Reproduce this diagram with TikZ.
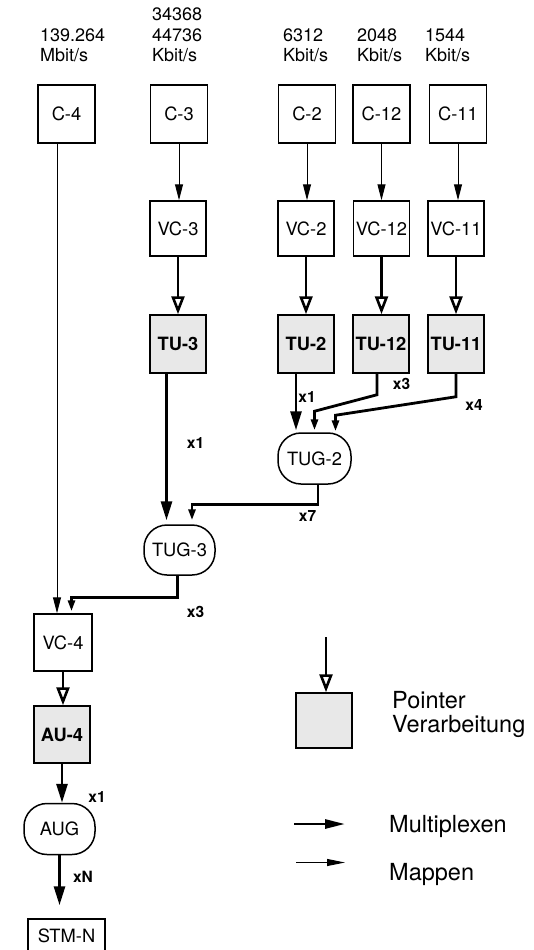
\documentclass[tikz,border=0pt]{standalone}
\usepackage{fontspec}
\setmainfont{TeX Gyre Heros}
\usetikzlibrary{arrows.meta,positioning}

\tikzset{
  unit/.style={draw, line width=1.5pt, minimum width=57pt, minimum height=57pt,
    inner sep=0pt, font=\fontsize{18.3}{20}\selectfont},
  ptrunit/.style={unit, fill=black!9, font=\fontsize{18.3}{20}\selectfont\bfseries},
  group/.style={draw, line width=1.5pt, rounded corners=23pt, minimum width=71pt,
    minimum height=51pt, inner sep=0pt, font=\fontsize{18.3}{20}\selectfont},
  mapar/.style={line width=1pt, -{Triangle[length=16pt,width=8pt]}},
  muxar/.style={line width=2.8pt, -{Triangle[length=19pt,width=11pt]}},
  muxsm/.style={line width=2.8pt, -{Triangle[length=11pt,width=7pt]}},
  ptrar/.style={line width=2.6pt, -{Triangle[open,length=18pt,width=13pt]}},
  rate/.style={anchor=base west, align=left, inner sep=0pt,
    font=\fontsize{18}{20.5}\selectfont},
  mult/.style={inner sep=0pt, font=\fontsize{15.5}{15.5}\selectfont\bfseries},
  legend/.style={anchor=base west, align=left, inner sep=0pt,
    font=\fontsize{23.5}{24}\selectfont},
}

\begin{document}
\begin{tikzpicture}[x=1pt, y=-1pt]
    \useasboundingbox (0,0) rectangle (533,950);
    \clip (0,0) rectangle (533,950);

    % Bit rates
    \node[rate] (r4) at (40,62) {139.264\\Mbit/s};
    \node[rate] (r3) at (152,62) {34368\\44736\\Kbit/s};
    \node[rate] (r2) at (283,62) {6312\\Kbit/s};
    \node[rate] (r12) at (357,62) {2048\\Kbit/s};
    \node[rate] (r11) at (425,62) {1544\\Kbit/s};

    % Container
    \node[unit, minimum height=58pt] (c4) at (66.5,114) {C-4};
    \node[unit, minimum height=58pt] (c3) at (179,114) {C-3};
    \node[unit, minimum height=58pt] (c2) at (307,114) {C-2};
    \node[unit, minimum height=58pt] (c12) at (381.5,114) {C-12};
    \node[unit, minimum height=58pt] (c11) at (458,114) {C-11};

    % Virtual container
    \node[unit, minimum width=56pt, minimum height=55pt] (vc3) at (178,228.5) {VC-3};
    \node[unit, minimum width=56pt, minimum height=55pt] (vc2) at (306,228.5) {VC-2};
    \node[unit, minimum width=56pt, minimum height=55pt] (vc12) at (381.5,228.5) {VC-12};
    \node[unit, minimum width=56pt, minimum height=55pt] (vc11) at (456,228.5) {VC-11};

    % Tributary units
    \node[ptrunit, minimum width=56pt, minimum height=58pt] (tu3) at (178,344) {TU-3};
    \node[ptrunit, minimum width=56pt, minimum height=58pt] (tu2) at (306,344) {TU-2};
    \node[ptrunit, minimum width=56pt, minimum height=58pt] (tu12) at (381,344) {TU-12};
    \node[ptrunit, minimum width=56pt, minimum height=58pt] (tu11) at (456,344) {TU-11};

    % Groups
    \node[group, minimum width=73pt] (tug2) at (314.5,458.5) {TUG-2};
    \node[group, minimum height=50pt] (tug3) at (179.5,550) {TUG-3};

    % Lower chain
    \node[unit, minimum width=58pt] (vc4) at (63,642.5) {VC-4};
    \node[ptrunit, minimum width=56pt] (au4) at (62,734.5) {AU-4};
    \node[group] (aug) at (59.5,829) {AUG};
    \node[unit, minimum width=77pt, minimum height=34pt] (stm) at (66.5,936) {STM-N};

    % Mapping
    \draw[mapar] ([xshift=-9.5pt]c4.south) -- ([xshift=-9.5pt]c4.south |- vc4.north);
    \foreach \n in {3,2,12,11}
        \draw[mapar] (c\n.south) -- (c\n.south |- vc\n.north);

    % Pointer processing
    \foreach \n in {3,2,12,11}
        \draw[ptrar] (vc\n.south) -- (vc\n.south |- tu\n.north);
    \draw[ptrar] (vc4.south) -- (vc4.south |- au4.north);

    % Multiplexing into TUG-2
    \draw[muxar, shorten >=2pt] ([xshift=-10pt]tu2.south) -- ([xshift=-10pt]tu2.south |- tug2.north);
    \draw[muxsm, shorten >=2pt] ([xshift=-4pt]tu12.south) -- ++(0,21)
        -- ([yshift=21pt]tug2.north) -- (tug2.north);
    \draw[muxsm, shorten >=2pt] (tu11.south) -- ++(0,23)
        -- ([xshift=21pt,yshift=17pt]tug2.north) -- ([xshift=21pt,yshift=-1pt]tug2.north);

    % Multiplexing into TUG-3 and VC-4
    \draw[muxar, shorten >=4pt] ([xshift=-11.5pt]tu3.south) -- ([xshift=-11.5pt]tu3.south |- tug3.north);
    \draw[muxsm, shorten >=4pt] ([xshift=3.5pt]tug2.south) -- ++(0,20)
        -| ([xshift=12.5pt]tug3.north);
    \draw[muxsm, shorten >=2pt] ([xshift=-2pt]tug3.south) -- ++(0,22)
        -| ([xshift=8.5pt]vc4.north);
    \draw[muxar] (au4.south) -- (au4.south |- aug.north);
    \draw[muxar, shorten >=13pt] (aug.south) -- (aug.south |- stm.north);

    % Multiplex factors
    \node[mult] (m2) at (307,397) {x1};
    \node[mult] (m12) at (401.5,384) {x3};
    \node[mult] (m11) at (474,405) {x4};
    \node[mult] (m3) at (195.5,443) {x1};
    \node[mult] (mtug2) at (307.5,516) {x7};
    \node[mult] (mtug3) at (195.5,611.5) {x3};
    \node[mult] (mau) at (97,797) {x1};
    \node[mult] (maug) at (83,877) {xN};

    % Legend
    \node[ptrunit, minimum width=56pt, minimum height=55pt] (legbox) at (324,720.5) {};
    \coordinate (legtop) at (326,637);
    \draw[ptrar] (legtop) -- (legtop |- legbox.north);
    \node[legend] (legptr) at (392,732) {Pointer\\Verarbeitung};
    \coordinate (mxa) at (294,824);
    \coordinate (mxb) at (345,824);
    \draw[line width=2.8pt, -{Triangle[length=20pt,width=9pt]}] (mxa) -- (mxb);
    \node[legend] (legmux) at (389,832.5) {Multiplexen};
    \coordinate (mpa) at (296,862.5);
    \coordinate (mpb) at (345,862.5);
    \draw[line width=1pt, -{Triangle[length=18pt,width=7pt]}] (mpa) -- (mpb);
    \node[legend] (legmap) at (389,880) {Mappen};

\end{tikzpicture}
\end{document}
